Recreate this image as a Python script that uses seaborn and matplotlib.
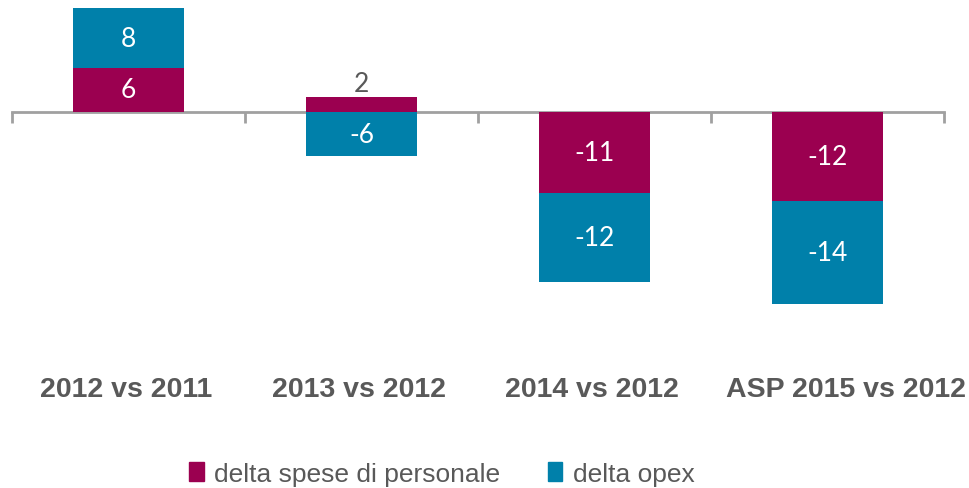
import numpy as np
import pandas as pd
import matplotlib
matplotlib.use('Agg')
import matplotlib.pyplot as plt
import matplotlib.patches as mpatches
import seaborn as sns

# Data
categories = ['2012 vs 2011', '2013 vs 2012', '2014 vs 2012', 'ASP 2015 vs 2012']
personale = [6, 2, -11, -12]
opex = [8, -6, -12, -14]
series_names = ['delta spese di personale', 'delta opex']

col_pers = '#9B0050'
col_opex = '#0080AA'
grey_txt = '#595959'

sns.set_theme(style='white')
plt.rcParams['font.family'] = ['Liberation Sans', 'DejaVu Sans']

# stacked ends: same-sign values stack, opposite-sign start from zero
opex_end = [p + o if p * o > 0 else o for p, o in zip(personale, opex)]
df = pd.DataFrame({'cat': categories, 'personale': personale,
                   'opex': opex, 'opex_end': opex_end})

fig = plt.figure(figsize=(9.69, 4.89), dpi=100)
ax = fig.add_axes([12 / 969, 1 - 320 / 489, 932 / 969, 312 / 489])

sns.barplot(data=df, x='cat', y='opex_end', color=col_opex, width=0.475,
            saturation=1, linewidth=0, ax=ax)
sns.barplot(data=df, x='cat', y='personale', color=col_pers, width=0.475,
            saturation=1, linewidth=0, ax=ax)

ax.set_xlim(-0.5, 3.5)
ax.set_ylim(-28, 14.2)
ax.set_xlabel('')
ax.set_ylabel('')
ax.set_yticks([])

# axis line at zero with ticks between categories
for s in ['top', 'right', 'left']:
    ax.spines[s].set_visible(False)
ax.spines['bottom'].set_position(('data', 0))
ax.spines['bottom'].set_color('#A0A0A0')
ax.spines['bottom'].set_linewidth(2)
ax.spines['bottom'].set_zorder(0.5)
ax.set_xticks(np.arange(-0.5, 4, 1))
ax.set_xticklabels([])
ax.tick_params(axis='x', direction='out', length=8, width=2, color='#A0A0A0',
               bottom=True)

# the last label sits a little to the right in the original
label_shift = [-0.01, -0.01, -0.01, 0.08]
for i, c in enumerate(categories):
    ax.text(i + label_shift[i], -0.224, c, transform=ax.get_xaxis_transform(),
            ha='center', va='center', fontsize=20.5, fontweight='bold',
            color=grey_txt, clip_on=False)

# value labels
for i, (p, o, e) in enumerate(zip(personale, opex, opex_end)):
    if abs(p) < 3:
        ax.text(i, p + 1.9, f'{p}', ha='center', va='center', fontsize=19,
                color=grey_txt, family='Lato')
    else:
        ax.text(i, p / 2, f'{p}', ha='center', va='center', fontsize=19,
                color='white', family='Lato')
    start = p if p * o > 0 else 0
    ax.text(i, start + o / 2, f'{o}', ha='center', va='center', fontsize=19,
            color='white', family='Lato')

handles = [mpatches.Patch(color=col_pers, label=series_names[0]),
           mpatches.Patch(color=col_opex, label=series_names[1])]
fig.legend(handles=handles, loc='center', bbox_to_anchor=(0.456, 0.029),
           ncol=2, frameon=False, fontsize=19, handlelength=0.55,
           handleheight=0.7, handletextpad=0.4, columnspacing=1.8,
           labelcolor=grey_txt)

fig.savefig('out.png', dpi=100)
